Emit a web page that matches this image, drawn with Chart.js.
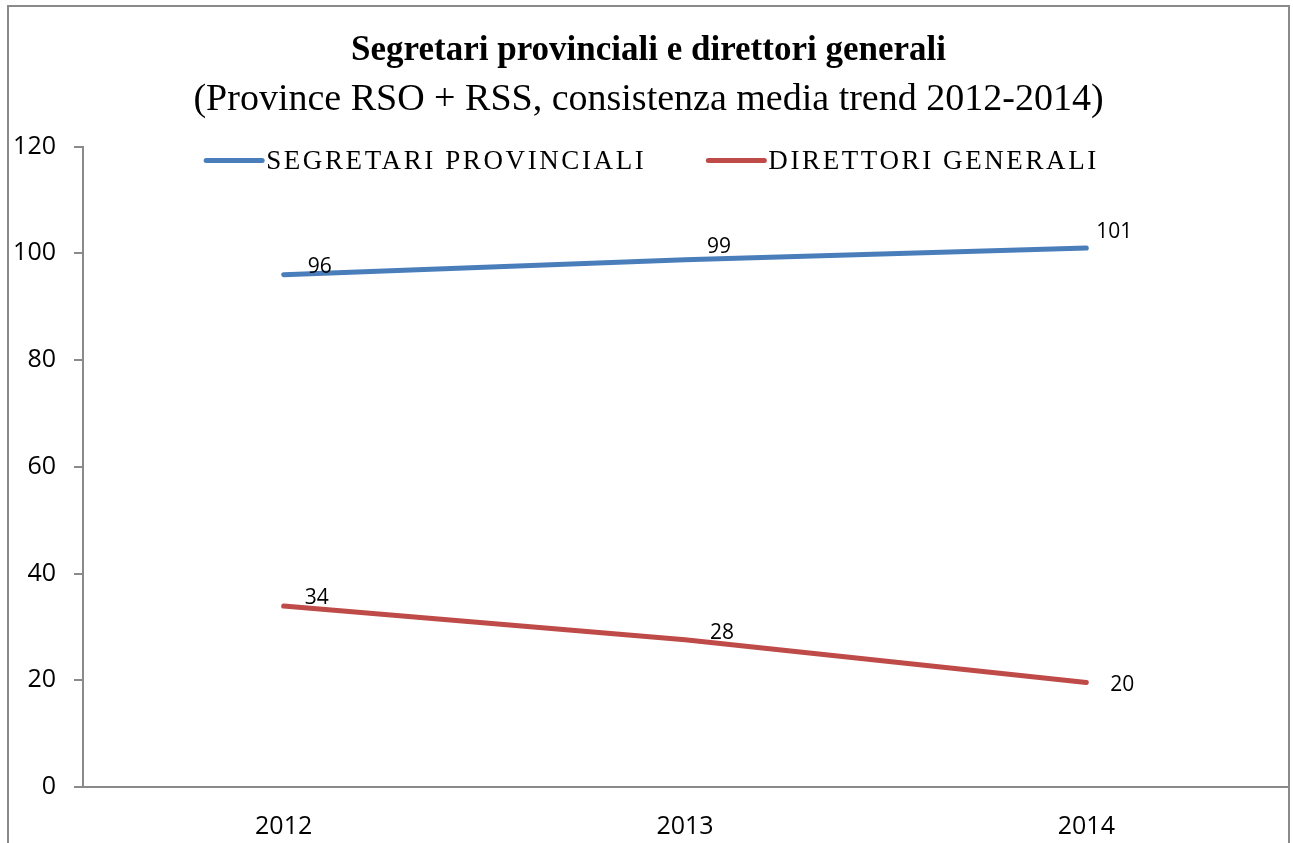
<!DOCTYPE html>
<html>
<head>
<meta charset="utf-8">
<script src="https://cdn.jsdelivr.net/npm/chart.js@4/dist/chart.umd.min.js"></script>
<style>
  html, body { margin: 0; padding: 0; background: #fff; }
  #wrap { width: 1293px; height: 843px; position: relative; }
</style>
</head>
<body>
<div id="wrap"><canvas id="chart"></canvas></div>
<script>
const years = ['2012', '2013', '2014'];
const segretari = [96, 98.8, 101];
const direttori = [33.9, 27.6, 19.6];
const seriesNames = ['SEGRETARI PROVINCIALI', 'DIRETTORI GENERALI'];

const sans = "'Open Sans', sans-serif";
const serif = "'Liberation Serif', serif";

// outer frame like the Excel chart box
const framePlugin = {
    id: 'frame',
    beforeDraw( chart )
    {
        const ctx = chart.ctx;
        ctx.save();
        ctx.strokeStyle = '#8a8a8a';
        ctx.lineWidth = 2;
        ctx.strokeRect(8, 6, 1281, 900);
        ctx.restore();
    }
};

// legend drawn inside the plot, on one row at the top
const topLegend = {
    id: 'topLegend',
    afterDraw( chart )
    {
        const ctx = chart.ctx;
        const sets = chart.data.datasets;
        ctx.save();
        ctx.font = "27px " + serif;
        ctx.letterSpacing = '2.6px';
        ctx.textBaseline = 'middle';
        ctx.textAlign = 'left';

        const lineW = 56, gap = 4, between = 62;
        let total = 0;
        sets.forEach(( ds, i ) =>
        {
            total += lineW + gap + ctx.measureText(ds.label).width;
            if( i < sets.length - 1 ) total += between;
        });

        let x = (chart.width - total) / 2 + 6;
        const y = chart.chartArea.top + 14;
        sets.forEach(( ds ) =>
        {
            ctx.strokeStyle = ds.borderColor;
            ctx.lineWidth = 5;
            ctx.lineCap = 'round';
            ctx.beginPath();
            ctx.moveTo(x, y);
            ctx.lineTo(x + lineW, y);
            ctx.stroke();
            ctx.fillStyle = '#000';
            ctx.fillText(ds.label, x + lineW + gap, y + 1);
            x += lineW + gap + ctx.measureText(ds.label).width + between;
        });
        ctx.restore();
    }
};

// value labels beside each point
const valueLabels = {
    id: 'valueLabels',
    afterDatasetsDraw( chart )
    {
        const ctx = chart.ctx;
        const shift = [
            [[24, -8], [22, -13], [10, -16]],
            [[21, -8], [25, -7], [24, 3]]
        ];
        ctx.save();
        ctx.font = "21px " + sans;
        ctx.fillStyle = '#000';
        ctx.textAlign = 'left';
        ctx.textBaseline = 'middle';
        chart.data.datasets.forEach(( ds, i ) =>
        {
            chart.getDatasetMeta(i).data.forEach(( pt, j ) =>
            {
                ctx.fillText(Math.round(ds.data[j]), pt.x + shift[i][j][0], pt.y + shift[i][j][1]);
            });
        });
        ctx.restore();
    }
};

new Chart(document.getElementById('chart'), {
    type: 'line',
    data: {
        labels: years,
        datasets: [
            {
                label: seriesNames[0],
                data: segretari,
                borderColor: '#4a7ebb',
                backgroundColor: '#4a7ebb',
                borderWidth: 5,
                borderCapStyle: 'round',
                pointRadius: 0,
                tension: 0
            },
            {
                label: seriesNames[1],
                data: direttori,
                borderColor: '#be4b48',
                backgroundColor: '#be4b48',
                borderWidth: 5,
                borderCapStyle: 'round',
                pointRadius: 0,
                tension: 0
            }
        ]
    },
    options: {
        responsive: true,
        maintainAspectRatio: false,
        animation: false,
        layout: { padding: { top: 30, left: 10, right: 6, bottom: 2 } },
        plugins: {
            title: {
                display: true,
                text: 'Segretari provinciali e direttori generali',
                color: '#000',
                font: { family: serif, size: 35, weight: 'bold' },
                padding: { top: 0, bottom: 5 }
            },
            subtitle: {
                display: true,
                text: '(Province RSO + RSS, consistenza media trend 2012-2014)',
                color: '#000',
                font: { family: serif, size: 38 },
                padding: { top: 0, bottom: 24 }
            },
            legend: { display: false },
            tooltip: { enabled: false }
        },
        scales: {
            x: {
                offset: true,
                grid: { display: false, drawTicks: false },
                border: { display: true, color: '#8a8a8a', width: 2 },
                ticks: { color: '#000', padding: 25, font: { family: sans, size: 25 } },
                afterFit: ( scale ) => { scale.height = 54; }
            },
            y: {
                min: 0,
                max: 120,
                ticks: { stepSize: 20, color: '#000', padding: 18, font: { family: sans, size: 25 } },
                grid: { drawOnChartArea: false, drawTicks: true, tickLength: 9, color: '#8a8a8a', lineWidth: 2 },
                border: { display: true, color: '#8a8a8a', width: 2 },
                afterFit: ( scale ) => { scale.width = 73; }
            }
        }
    },
    plugins: [framePlugin, topLegend, valueLabels]
});
</script>
</body>
</html>
